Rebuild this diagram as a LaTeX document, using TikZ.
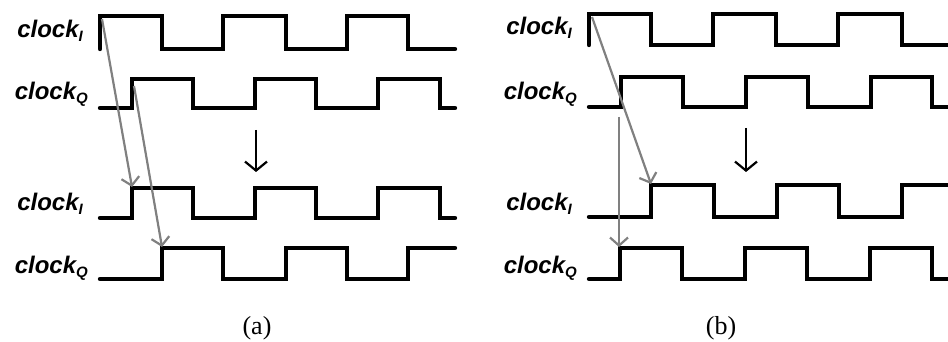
\documentclass[tikz,border=0pt]{standalone}
\usepackage{fontspec}
\setmainfont{Liberation Serif}
\newfontfamily\lblfont{Liberation Sans}
\usetikzlibrary{arrows.meta}
\tikzset{
  wave/.style={line width=4.4pt, line cap=round, line join=miter},
  grayarr/.style={draw={rgb,255:red,128;green,128;blue,128}, line width=2.2pt, -{Straight Barb[length=8pt,width=18pt,line width=2.2pt]}},
  blkarr/.style={draw=black, line width=2.2pt, -{Straight Barb[length=9pt,width=22pt,line width=2.2pt]}},
  lbl/.style={anchor=base east, inner sep=0pt, font=\lblfont\bfseries\itshape\fontsize{24}{28}\selectfont},
  captxt/.style={anchor=base, inner sep=0pt, font=\fontsize{26}{30}\selectfont}
}
\newcommand{\clk}[1]{clock\raisebox{-4pt}{\fontsize{15}{17}\selectfont #1}}
\begin{document}
\begin{tikzpicture}[x=1pt,y=-1pt]
\useasboundingbox (0,0) rectangle (948,342);
% ---------- panel (a) ----------
\draw[wave] (100,49)--(100,16)--(162,16)--(162,49)--(223,49)--(223,16)--(286,16)--(286,49)--(347,49)--(347,16)--(408,16)--(408,49)--(455,49);
\draw[wave] (100,108)--(132,108)--(132,79)--(193,79)--(193,108)--(255,108)--(255,79)--(316,79)--(316,108)--(378,108)--(378,79)--(440,79)--(440,108)--(455,108);
\draw[wave] (100,218)--(132,218)--(132,188)--(193,188)--(193,218)--(255,218)--(255,188)--(316,188)--(316,218)--(378,218)--(378,188)--(440,188)--(440,218)--(455,218);
\draw[wave] (100,279)--(162,279)--(162,248)--(223,248)--(223,279)--(286,279)--(286,248)--(347,248)--(347,279)--(408,279)--(408,248)--(455,248);
\node[lbl] (aI1) at (83,38) {\clk{I}};
\node[lbl] (aQ1) at (88,100) {\clk{Q}};
\node[lbl] (aI2) at (83,210) {\clk{I}};
\node[lbl] (aQ2) at (88,273) {\clk{Q}};
\coordinate (ag1s) at (102,19);
\coordinate (ag1e) at (132,187);
\coordinate (ag2s) at (134,86);
\coordinate (ag2e) at (162,247);
\draw[grayarr] (ag1s) -- (ag1e);
\draw[grayarr] (ag2s) -- (ag2e);
\coordinate (ab1) at (256,130);
\coordinate (ab2) at (256,172);
\draw[blkarr] (ab1) -- (ab2);
\node[captxt] (capa) at (257,334) {(a)};
% ---------- panel (b) ----------
\draw[wave] (589,45)--(589,14)--(651,14)--(651,45)--(713,45)--(713,14)--(776,14)--(776,45)--(838,45)--(838,14)--(902,14)--(902,45)--(952,45);
\draw[wave] (589,107)--(621,107)--(621,77)--(683,77)--(683,107)--(746,107)--(746,77)--(808,77)--(808,107)--(871,107)--(871,77)--(932,77)--(932,107)--(952,107);
\draw[wave] (589,217)--(651,217)--(651,185)--(714,185)--(714,217)--(777,217)--(777,185)--(839,185)--(839,217)--(902,217)--(902,185)--(952,185);
\draw[wave] (589,279)--(620,279)--(620,248)--(682,248)--(682,279)--(745,279)--(745,248)--(807,248)--(807,279)--(870,279)--(870,248)--(932,248)--(932,279)--(952,279);
\node[lbl] (bI1) at (572,35) {\clk{I}};
\node[lbl] (bQ1) at (577,100) {\clk{Q}};
\node[lbl] (bI2) at (572,211) {\clk{I}};
\node[lbl] (bQ2) at (577,273) {\clk{Q}};
\coordinate (bg1s) at (592,17);
\coordinate (bg1e) at (651,184);
\coordinate (bg2s) at (619,117);
\coordinate (bg2e) at (619,247);
\draw[grayarr] (bg1s) -- (bg1e);
\draw[grayarr] (bg2s) -- (bg2e);
\coordinate (bb1) at (746,128);
\coordinate (bb2) at (746,172);
\draw[blkarr] (bb1) -- (bb2);
\node[captxt] (capb) at (721,334) {(b)};
\end{tikzpicture}
\end{document}
